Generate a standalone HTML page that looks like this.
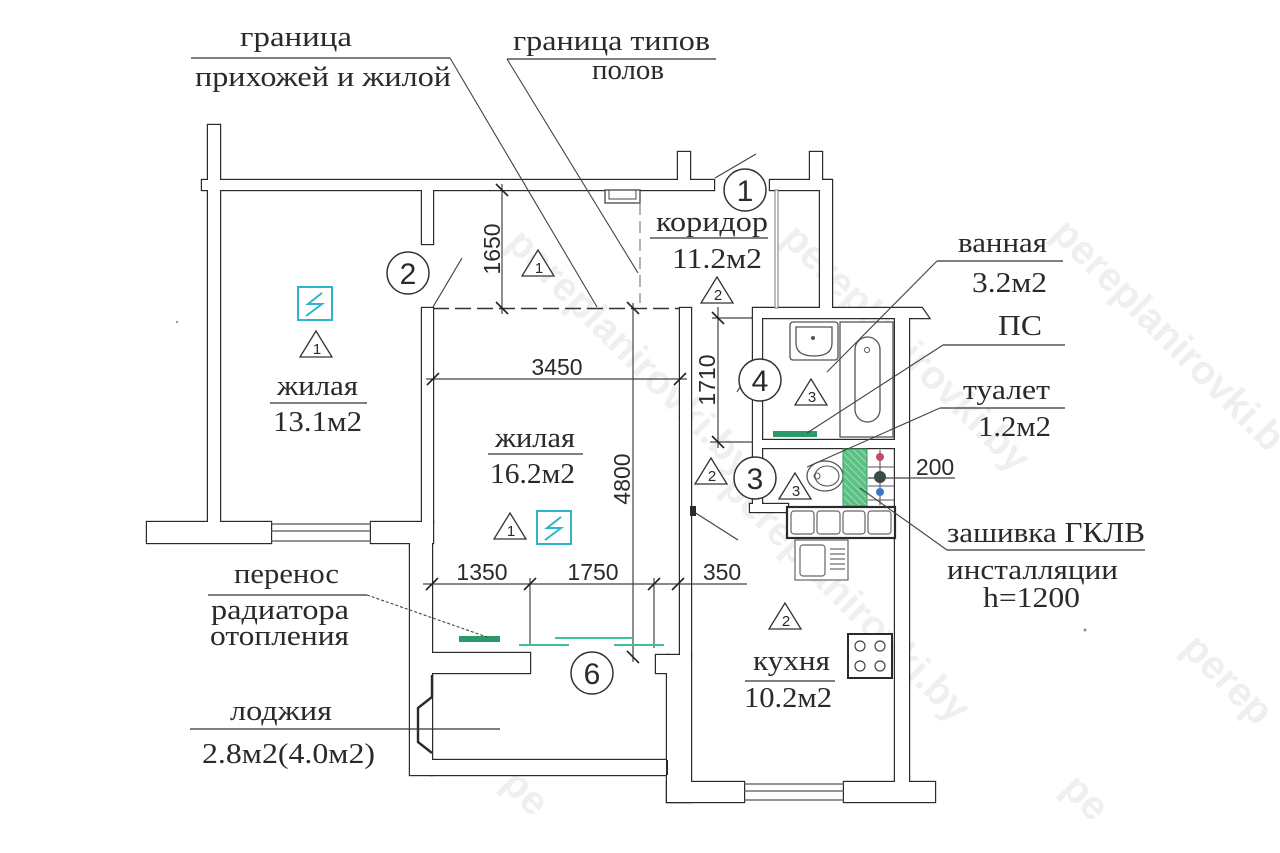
<!DOCTYPE html>
<html><head><meta charset="utf-8">
<style>
html,body{margin:0;padding:0;background:#fff;width:1280px;height:853px;overflow:hidden;}
svg{display:block;overflow:hidden;}
.s{font-family:"Liberation Serif","DejaVu Serif",serif;fill:#2a2a2a;font-size:28px;}
.n{font-family:"Liberation Sans","DejaVu Sans",sans-serif;fill:#2a2a2a;}
</style></head><body>
<svg width="1280" height="853" viewBox="0 0 1280 853" xmlns="http://www.w3.org/2000/svg">
<defs>
<clipPath id="pg"><rect width="1280" height="853"/></clipPath>
<pattern id="hatch" width="5" height="5" patternUnits="userSpaceOnUse" patternTransform="rotate(-45)">
<rect width="5" height="5" fill="#5cc185"/>
<line x1="0" y1="0" x2="0" y2="5" stroke="#a9e4bf" stroke-width="1.6"/>
</pattern>
<g id="wl">
<rect x="208" y="125" width="12" height="398"/>
<rect x="202" y="180" width="512" height="10"/>
<rect x="422" y="189" width="11" height="55"/>
<rect x="422" y="308" width="11" height="215"/>
<rect x="147" y="522" width="124" height="21"/>
<rect x="371" y="522" width="62" height="21"/>
<rect x="410" y="542" width="22" height="233"/>
<rect x="431" y="653" width="99" height="20"/>
<rect x="431" y="760" width="236" height="15"/>
<rect x="667" y="655" width="24" height="147"/>
<rect x="656" y="655" width="12" height="18"/>
<rect x="680" y="308" width="11" height="348"/>
<rect x="678" y="152" width="12" height="29"/>
<rect x="770" y="180" width="60" height="10"/>
<rect x="810" y="152" width="12" height="29"/>
<rect x="820" y="180" width="12" height="129"/>
<polygon points="753,308 922,308 929,318 753,318"/>
<rect x="895" y="317" width="14" height="466"/>
<rect x="667" y="782" width="77" height="20"/>
<rect x="844" y="782" width="91" height="20"/>
<rect x="753" y="317" width="9" height="190"/>
<rect x="761" y="440" width="135" height="8"/>
<rect x="750" y="504" width="38" height="8"/>
</g>
</defs>
<rect width="1280" height="853" fill="#fff"/>

<!-- watermarks -->
<g clip-path="url(#pg)" font-family="Liberation Sans, DejaVu Sans, sans-serif" font-weight="bold" font-size="40" fill="#efefef">
<text transform="translate(505,245) rotate(45)">pereplanirovki.by</text>
<text transform="translate(780,240) rotate(45)">pereplanirovki.by</text>
<text transform="translate(1050,235) rotate(45)">pereplanirovki.b</text>
<text transform="translate(720,490) rotate(45)">pereplanirovki.by</text>
<text transform="translate(1180,650) rotate(45)">perep</text>
<text transform="translate(500,785) rotate(45)">pe</text>
<text transform="translate(1060,790) rotate(45)">pe</text>
</g>

<!-- walls -->
<use href="#wl" fill="none" stroke="#2a2a2a" stroke-width="2.4"/>
<use href="#wl" fill="#fff"/>
<line x1="667" y1="760" x2="667" y2="775" stroke="#2a2a2a" stroke-width="2"/>

<!-- loggia chamfer -->
<polyline points="432,675 432,697 418,708 418,742 432,753" fill="none" stroke="#2a2a2a" stroke-width="2.4"/>

<!-- windows -->
<g stroke="#555" stroke-width="1.2">
<line x1="271" y1="524" x2="371" y2="524"/>
<line x1="271" y1="531" x2="371" y2="531"/>
<line x1="271" y1="541" x2="371" y2="541"/>
<line x1="744" y1="784" x2="844" y2="784"/>
<line x1="744" y1="791" x2="844" y2="791"/>
<line x1="744" y1="800" x2="844" y2="800"/>
</g>

<!-- thin partition & small box -->
<rect x="775" y="190" width="3" height="118" fill="#fff" stroke="#777" stroke-width="1"/>
<rect x="605" y="190" width="35" height="13" fill="#fff" stroke="#444" stroke-width="1.3"/>
<rect x="609" y="190" width="27" height="9" fill="none" stroke="#444" stroke-width="1"/>

<!-- dashed boundaries -->
<line x1="433" y1="308.5" x2="680" y2="308.5" stroke="#333" stroke-width="1.6" stroke-dasharray="16 6"/>
<line x1="640" y1="203" x2="640" y2="303" stroke="#888" stroke-width="1.3" stroke-dasharray="12 6"/>

<!-- door leaves -->
<g stroke="#444" stroke-width="1.2">
<line x1="433" y1="307" x2="462" y2="258"/>
<line x1="715" y1="178" x2="756" y2="154"/>
<line x1="737" y1="392" x2="752" y2="367"/>
<line x1="694" y1="512" x2="738" y2="540"/>
</g>
<rect x="690" y="506" width="6" height="10" fill="#2a2a2a"/>

<!-- dimension lines -->
<g stroke="#444" stroke-width="1.2" fill="none">
<line x1="502" y1="184" x2="502" y2="314"/>
<line x1="426" y1="379" x2="687" y2="379"/>
<line x1="633" y1="303" x2="633" y2="662"/>
<line x1="718" y1="307" x2="718" y2="448"/>
<line x1="712" y1="318" x2="753" y2="318"/>
<line x1="710" y1="442" x2="753" y2="442"/>
<line x1="423" y1="584" x2="747" y2="584"/>
<line x1="530" y1="578" x2="530" y2="645"/>
<line x1="654" y1="578" x2="654" y2="648"/>
<line x1="868" y1="478" x2="955" y2="478"/>
</g>
<g stroke="#222" stroke-width="1.6">
<line x1="496" y1="184" x2="508" y2="196"/>
<line x1="496" y1="302" x2="508" y2="314"/>
<line x1="427" y1="385" x2="439" y2="373"/>
<line x1="674" y1="385" x2="686" y2="373"/>
<line x1="627" y1="302" x2="639" y2="314"/>
<line x1="627" y1="651" x2="639" y2="663"/>
<line x1="712" y1="312" x2="724" y2="324"/>
<line x1="712" y1="436" x2="724" y2="448"/>
<line x1="426" y1="590" x2="438" y2="578"/>
<line x1="524" y1="590" x2="536" y2="578"/>
<line x1="648" y1="590" x2="660" y2="578"/>
<line x1="672" y1="590" x2="684" y2="578"/>
</g>

<!-- bathroom fixtures -->
<g stroke="#555" stroke-width="1.3" fill="#fff">
<rect x="790" y="322" width="48" height="38" rx="3"/>
<path d="M796 327 H832 V343 Q832 356 814 356 Q796 356 796 343 Z"/>
<rect x="840" y="322" width="53" height="115"/>
<rect x="855" y="337" width="25" height="85" rx="12.5"/>
</g>
<circle cx="813" cy="338" r="2" fill="#555"/>
<circle cx="867" cy="350" r="2.5" fill="none" stroke="#555"/>
<rect x="773" y="431" width="44" height="6" fill="#2a9a68"/>

<!-- toilet -->
<ellipse cx="825" cy="476" rx="18" ry="15" fill="#fff" stroke="#555" stroke-width="1.3"/>
<ellipse cx="827" cy="476" rx="12" ry="10" fill="none" stroke="#555" stroke-width="1.1"/>
<circle cx="817" cy="476" r="3" fill="none" stroke="#555"/>
<rect x="843" y="449" width="24" height="57" fill="url(#hatch)" stroke="#3a9a60" stroke-width="1"/>
<g stroke="#555" stroke-width="1.1">
<line x1="880" y1="450" x2="880" y2="505"/>
<line x1="868" y1="467" x2="895" y2="467"/>
<line x1="868" y1="486" x2="895" y2="486"/>
<line x1="868" y1="500" x2="895" y2="500"/>
</g>
<circle cx="880" cy="457" r="4" fill="#c64a6a"/>
<circle cx="880" cy="477" r="6" fill="#3a4a4a"/>
<circle cx="880" cy="492" r="4" fill="#3c78c8"/>

<!-- kitchen fixtures -->
<rect x="787" y="507" width="108" height="31" fill="#fff" stroke="#2a2a2a" stroke-width="2.2"/>
<g stroke="#666" stroke-width="1.2" fill="#fff">
<rect x="791" y="511" width="23" height="23" rx="3"/>
<rect x="817" y="511" width="23" height="23" rx="3"/>
<rect x="843" y="511" width="22" height="23" rx="3"/>
<rect x="868" y="511" width="23" height="23" rx="3"/>
<rect x="795" y="540" width="53" height="40"/>
<rect x="800" y="545" width="25" height="31" rx="3"/>
</g>
<g stroke="#666" stroke-width="1.2">
<line x1="830" y1="549" x2="845" y2="549"/>
<line x1="830" y1="554" x2="845" y2="554"/>
<line x1="830" y1="559" x2="845" y2="559"/>
<line x1="830" y1="564" x2="845" y2="564"/>
<line x1="830" y1="569" x2="845" y2="569"/>
</g>
<rect x="848" y="634" width="44" height="44" fill="#fff" stroke="#2a2a2a" stroke-width="2"/>
<g fill="none" stroke="#444" stroke-width="1.2">
<circle cx="860" cy="646" r="5"/><circle cx="880" cy="646" r="5"/>
<circle cx="860" cy="666" r="5"/><circle cx="880" cy="666" r="5"/>
</g>

<!-- radiators -->
<rect x="459" y="636" width="41" height="6" fill="#2a9a68"/>
<g stroke="#3cc0a0" stroke-width="2">
<line x1="519" y1="645" x2="569" y2="645"/>
<line x1="555" y1="638" x2="632" y2="638"/>
<line x1="614" y1="645" x2="664" y2="645"/>
</g>

<!-- electric symbols -->
<g fill="none" stroke="#2fb3c9" stroke-width="2">
<rect x="298" y="287" width="34" height="33"/>
<polyline points="322,293 308,304 322,304 306,316"/>
<rect x="537" y="511" width="34" height="33"/>
<polyline points="561,517 547,528 561,528 545,540"/>
</g>

<!-- triangles -->
<g fill="#fff" stroke="#333" stroke-width="1.3">
<polygon points="538,250 522,276 554,276"/>
<polygon points="316,331 300,357 332,357"/>
<polygon points="510,513 494,539 526,539"/>
<polygon points="717,277 701,303 733,303"/>
<polygon points="711,458 695,484 727,484"/>
<polygon points="785,603 769,629 801,629"/>
<polygon points="811,379 795,405 827,405"/>
<polygon points="795,473 779,499 811,499"/>
</g>
<g class="n" font-size="15" text-anchor="middle">
<text x="539" y="273">1</text>
<text x="317" y="354">1</text>
<text x="511" y="536">1</text>
<text x="718" y="300">2</text>
<text x="712" y="481">2</text>
<text x="786" y="626">2</text>
<text x="812" y="402">3</text>
<text x="796" y="496">3</text>
</g>

<!-- leaders -->
<g stroke="#444" stroke-width="1.1" fill="none">
<line x1="450" y1="58" x2="597" y2="307"/>
<line x1="507" y1="59" x2="638" y2="273"/>
<line x1="937" y1="261" x2="827" y2="372"/>
<line x1="943" y1="345" x2="807" y2="433"/>
<line x1="940" y1="408" x2="807" y2="467"/>
<line x1="947" y1="550" x2="860" y2="488"/>
<line x1="367" y1="595" x2="487" y2="637" stroke-dasharray="3 2"/>
</g>
<!-- underlines -->
<g stroke="#333" stroke-width="1.3">
<line x1="191" y1="58" x2="450" y2="58"/>
<line x1="507" y1="59" x2="716" y2="59"/>
<line x1="650" y1="238" x2="768" y2="238"/>
<line x1="270" y1="403" x2="367" y2="403"/>
<line x1="488" y1="454" x2="583" y2="454"/>
<line x1="937" y1="261" x2="1063" y2="261"/>
<line x1="943" y1="345" x2="1065" y2="345"/>
<line x1="940" y1="408" x2="1065" y2="408"/>
<line x1="947" y1="550" x2="1145" y2="550"/>
<line x1="208" y1="595" x2="367" y2="595"/>
<line x1="190" y1="729" x2="500" y2="729"/>
<line x1="745" y1="681" x2="835" y2="681"/>
</g>

<!-- circles -->
<g fill="#fff" stroke="#333" stroke-width="1.5">
<circle cx="745" cy="190" r="21"/>
<circle cx="408" cy="273" r="21"/>
<circle cx="755" cy="478" r="21"/>
<circle cx="760" cy="380" r="21"/>
<circle cx="592" cy="673" r="21"/>
</g>
<g class="n" font-size="30" text-anchor="middle">
<text x="745" y="201">1</text>
<text x="408" y="284">2</text>
<text x="755" y="489">3</text>
<text x="760" y="391">4</text>
<text x="592" y="684">6</text>
</g>

<!-- dimension numbers -->
<g class="n" font-size="23">
<text x="557" y="375" text-anchor="middle">3450</text>
<text x="482" y="580" text-anchor="middle">1350</text>
<text x="593" y="580" text-anchor="middle">1750</text>
<text x="722" y="580" text-anchor="middle">350</text>
<text x="935" y="475" text-anchor="middle">200</text>
<text transform="translate(500,249) rotate(-90)" text-anchor="middle">1650</text>
<text transform="translate(630,479) rotate(-90)" text-anchor="middle">4800</text>
<text transform="translate(715,380) rotate(-90)" text-anchor="middle">1710</text>
</g>

<!-- serif labels -->
<g class="s">
<text x="240" y="46" textLength="112" lengthAdjust="spacingAndGlyphs">граница</text>
<text x="195" y="86" textLength="256" lengthAdjust="spacingAndGlyphs">прихожей и жилой</text>
<text x="513" y="50" textLength="197" lengthAdjust="spacingAndGlyphs">граница типов</text>
<text x="592" y="79" textLength="72" lengthAdjust="spacingAndGlyphs">полов</text>
<text x="656" y="231" textLength="112" lengthAdjust="spacingAndGlyphs">коридор</text>
<text x="672" y="268" textLength="90" lengthAdjust="spacingAndGlyphs">11.2м2</text>
<text x="277" y="395" textLength="81" lengthAdjust="spacingAndGlyphs">жилая</text>
<text x="273" y="431" textLength="89" lengthAdjust="spacingAndGlyphs">13.1м2</text>
<text x="495" y="447" textLength="80" lengthAdjust="spacingAndGlyphs">жилая</text>
<text x="490" y="483" textLength="85" lengthAdjust="spacingAndGlyphs">16.2м2</text>
<text x="958" y="252" textLength="89" lengthAdjust="spacingAndGlyphs">ванная</text>
<text x="972" y="292" textLength="75" lengthAdjust="spacingAndGlyphs">3.2м2</text>
<text x="998" y="335" textLength="44" lengthAdjust="spacingAndGlyphs">ПС</text>
<text x="963" y="399" textLength="87" lengthAdjust="spacingAndGlyphs">туалет</text>
<text x="978" y="436" textLength="73" lengthAdjust="spacingAndGlyphs">1.2м2</text>
<text x="947" y="542" textLength="198" lengthAdjust="spacingAndGlyphs">зашивка ГКЛВ</text>
<text x="947" y="579" textLength="171" lengthAdjust="spacingAndGlyphs">инсталляции</text>
<text x="983" y="607" textLength="97" lengthAdjust="spacingAndGlyphs">h=1200</text>
<text x="234" y="583" textLength="105" lengthAdjust="spacingAndGlyphs">перенос</text>
<text x="211" y="619" textLength="138" lengthAdjust="spacingAndGlyphs">радиатора</text>
<text x="210" y="645" textLength="139" lengthAdjust="spacingAndGlyphs">отопления</text>
<text x="230" y="720" textLength="102" lengthAdjust="spacingAndGlyphs">лоджия</text>
<text x="202" y="763" textLength="173" lengthAdjust="spacingAndGlyphs">2.8м2(4.0м2)</text>
<text x="753" y="670" textLength="77" lengthAdjust="spacingAndGlyphs">кухня</text>
<text x="744" y="707" textLength="88" lengthAdjust="spacingAndGlyphs">10.2м2</text>
</g>

<circle cx="177" cy="322" r="1.2" fill="#999"/>
<circle cx="1085" cy="630" r="1.5" fill="#a86"/>
</svg>
</body></html>
